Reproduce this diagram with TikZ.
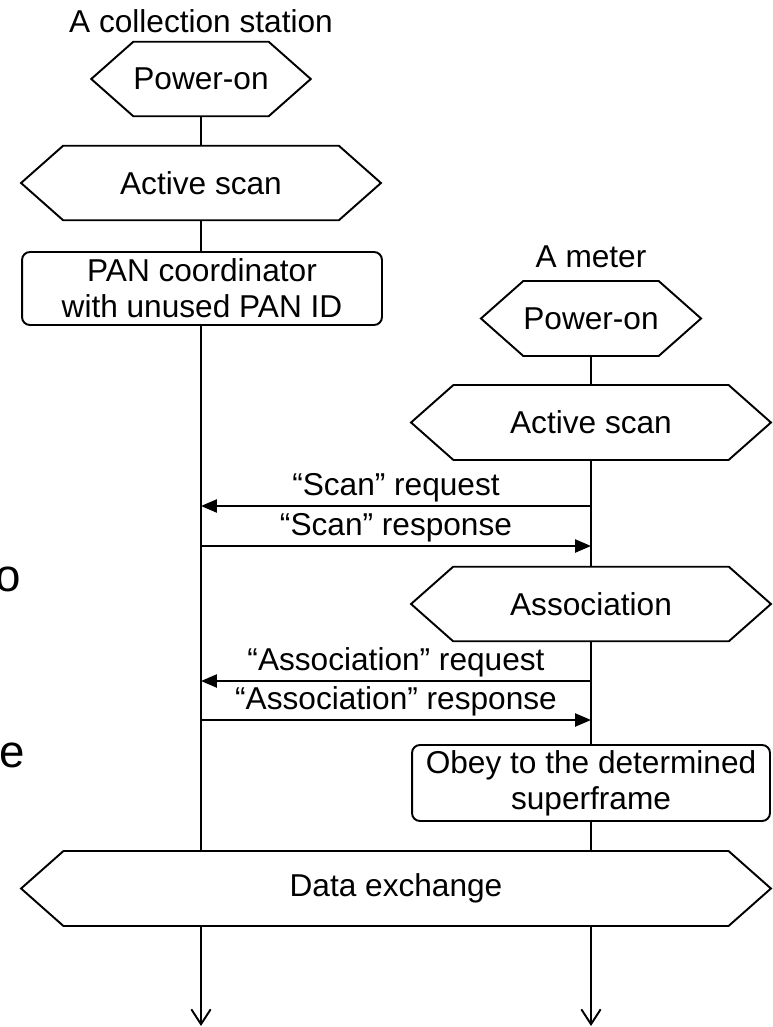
\documentclass[tikz,border=0pt]{standalone}
\usepackage{fontspec}
\setmainfont{Liberation Sans}
\usetikzlibrary{arrows.meta,shapes.symbols,positioning}
\begin{document}
\begin{tikzpicture}[x=0.02cm,y=-0.02cm,line width=1.1pt,font=\fontsize{18}{20.5}\selectfont]
	\tikzset{hexa/.style = {shape=signal,draw,signal to=west and east,signal pointer angle=83,minimum height=1.49cm,inner sep=0pt,align=center}}
	\tikzset{roundbox/.style = {shape=rectangle,draw,rounded corners=4.5pt,align=center,inner sep=0pt}}
	\tikzset{msg/.style = {-{Triangle[length=9pt,width=7.4pt]}}}
	\tikzset{life/.style = {-{Straight Barb[length=8.5pt,width=11pt]}}}
	\useasboundingbox (0,0) rectangle (772,1027);
	% cut-off letters at the left edge
	\node[anchor=base east,inner sep=0pt] (fragN) at (2.5,90) {n};
	\node[anchor=base east,inner sep=0pt,font=\fontsize{26}{30}\selectfont] (fragO) at (21.8,591) {o};
	\node[anchor=base east,inner sep=0pt,font=\fontsize{26}{30}\selectfont] (fragE) at (25.8,767) {e};
	% collection station
	\node[anchor=base] (titleA) at (201,33) {A collection station};
	\node[hexa,minimum width=4.2cm] (pwrA) at (201,79) {Power-on};
	\node[hexa,minimum width=7.2cm] (scanA) at (201,183) {Active scan};
	\node[roundbox,minimum width=7.2cm,minimum height=1.46cm] (panA) at (202,288.5) {PAN coordinator\\with unused PAN ID};
	% meter
	\node[anchor=base] (titleB) at (591,267) {A meter};
	\node[hexa,minimum width=4.2cm,minimum height=1.5cm] (pwrB) at (591,318.5) {Power-on};
	\node[hexa,minimum width=7.2cm,minimum height=1.5cm] (scanB) at (591,422.5) {Active scan};
	\node[hexa,minimum width=7.2cm] (assocB) at (591,604) {Association};
	\node[roundbox,minimum width=7.16cm,minimum height=1.52cm] (obeyB) at (591,783) {Obey to the determined\\superframe};
	% both
	\node[hexa,minimum width=15cm,minimum height=1.5cm] (data) at (396,888.5) {Data exchange};
	\coordinate (endA) at (201,1026);
	\coordinate (endB) at (591,1026);
	\coordinate (rqA) at (201,506);
	\coordinate (rqB) at (591,506);
	\coordinate (rsA) at (201,546);
	\coordinate (rsB) at (591,546);
	\coordinate (arqA) at (201,681);
	\coordinate (arqB) at (591,681);
	\coordinate (arsA) at (201,720);
	\coordinate (arsB) at (591,720);
	% life lines
	\draw (pwrA) -- (scanA);
	\draw (scanA.south) -- (panA.north -| scanA);
	\draw (panA.south -| rqA) -- (data.north -| rqA);
	\draw[life] (data.south -| endA) -- (endA);
	\draw (pwrB) -- (scanB);
	\draw (scanB) -- (assocB);
	\draw (assocB) -- (obeyB);
	\draw (obeyB.south) -- (data.north -| obeyB);
	\draw[life] (data.south -| endB) -- (endB);
	% messages
	\draw[msg] (rqB) -- node[above,inner sep=1.6pt] (rqL) {“Scan” request} (rqA);
	\draw[msg] (rsA) -- node[above,inner sep=1.6pt] (rsL) {“Scan” response} (rsB);
	\draw[msg] (arqB) -- node[above,inner sep=1.6pt] (arqL) {“Association” request} (arqA);
	\draw[msg] (arsA) -- node[above,inner sep=1.6pt] (arsL) {“Association” response} (arsB);
\end{tikzpicture}
\end{document}
